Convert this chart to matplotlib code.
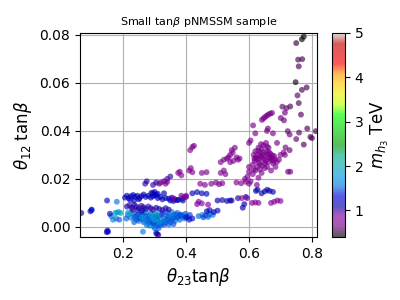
import numpy as np
import matplotlib
matplotlib.use("Agg")
import matplotlib.pyplot as plt

# light blue cluster
x_lb = [0.232,0.240,0.248,0.255,0.262,0.270,0.278,0.285,0.292,0.300,0.308,0.315,0.322,0.330,0.338,0.345,0.352,0.360,0.368,0.375,0.382,0.390,0.398,0.405,0.250,0.265,0.280,0.295,0.305,0.318,0.335,0.350,0.365,0.242,0.258,0.272,0.288,0.302,0.325,0.340,0.355,0.372,0.310,0.298,0.320,0.285,0.275,0.345,0.360,0.380,0.395,0.412,0.440,0.452,0.462,0.475,0.485,0.455,0.470,0.263,0.180,0.168,0.178,0.188,0.162,0.100,0.225,0.235,0.215,0.210,0.330,0.313,0.300,
        0.236,0.252,0.268,0.283,0.296,0.312,0.327,0.343,0.358,0.373,0.388,0.244,0.261,0.277,0.291,0.306,0.321,0.337,0.352,0.367,0.383]
y_lb = [0.0055,0.0045,0.0050,0.0040,0.0035,0.0048,0.0030,0.0042,0.0025,0.0038,0.0030,0.0045,0.0020,0.0035,0.0028,0.0042,0.0032,0.0050,0.0038,0.0045,0.0052,0.0048,0.0055,0.0042,0.0025,0.0020,0.0015,0.0012,0.0010,0.0015,0.0018,0.0020,0.0025,0.0030,0.0060,0.0062,0.0058,0.0055,0.0058,0.0060,0.0062,0.0058,0.0005,0.0002,0.0008,0.0005,0.0008,0.0010,0.0012,0.0030,0.0035,0.0050,0.0045,0.0050,0.0048,0.0052,0.0050,0.0040,0.0042,-0.0020,0.0105,0.0030,0.0035,0.0030,0.0045,0.0070,0.0038,0.0020,0.0050,0.0035,0.0010,-0.0005,-0.0005,
        0.0040,0.0035,0.0028,0.0022,0.0018,0.0022,0.0025,0.0028,0.0035,0.0040,0.0042,0.0048,0.0052,0.0045,0.0040,0.0045,0.0050,0.0048,0.0045,0.0052,0.0048]
m_lb = [1.5,1.55,1.45,1.6,1.5,1.55,1.45,1.5,1.6,1.55,1.45,1.5,1.55,1.6,1.5,1.45,1.55,1.5,1.55,1.45,1.5,1.55,1.5,1.45,1.55,1.5,1.6,1.55,1.5,1.45,1.55,1.5,1.6,1.5,1.45,1.55,1.5,1.55,1.45,1.5,1.55,1.5,1.45,1.55,1.5,1.6,1.55,1.5,1.45,1.5,1.55,1.45,1.5,1.55,1.45,1.5,1.55,1.45,1.5,1.55,1.55,1.6,1.55,1.5,1.55,1.5,1.55,1.5,1.55,1.5,1.45,1.5,1.55,
        1.5,1.45,1.55,1.5,1.45,1.5,1.55,1.5,1.45,1.5,1.55,1.5,1.45,1.5,1.55,1.5,1.45,1.5,1.55,1.5,1.45]

# teal points
x_tl = [0.180,0.186,0.192,0.175,0.216,0.225,0.260,0.290,0.310,0.315,0.300]
y_tl = [0.0060,0.0062,0.0058,0.0058,0.0060,0.0058,0.0040,0.0050,0.0052,0.0020,0.0030]
m_tl = [1.9,1.92,1.88,1.9,1.85,1.9,1.85,1.88,1.9,1.85,1.88]

# dark blue cluster
x_db = [0.206,0.212,0.218,0.225,0.232,0.238,0.245,0.252,0.258,0.265,0.272,0.280,0.288,0.295,0.302,0.310,0.318,0.325,0.335,0.345,0.355,0.365,0.375,0.387,0.290,0.300,0.310,0.250,0.235,0.222,
        0.212,0.220,0.228,0.235,0.242,0.250,0.258,0.265,0.272,0.280,0.288,0.295,0.305,0.315,0.325,0.245,0.230,0.260,0.335,0.345,
        0.067,0.096,0.100,0.149,0.158,0.150,0.148,0.152,0.308,0.312,0.305,0.295,0.305,0.315,0.330,0.340,0.350,0.295,0.305,0.330,0.420,0.435,0.450,0.465,0.390,0.400,0.350,0.360,0.372,0.466,0.475,0.488,0.500,0.400,0.410,0.420,0.500,0.515,0.530,0.545,0.580,0.585,0.590,0.565,0.540,0.622,0.627,0.650,0.658,0.665,0.676,0.640,0.270,0.275]
y_db = [0.0122,0.0130,0.0120,0.0128,0.0133,0.0125,0.0130,0.0120,0.0128,0.0135,0.0125,0.0130,0.0122,0.0128,0.0132,0.0120,0.0125,0.0115,0.0120,0.0118,0.0122,0.0115,0.0112,0.0118,0.0142,0.0146,0.0138,0.0115,0.0110,0.0112,
        0.0085,0.0090,0.0080,0.0092,0.0085,0.0078,0.0088,0.0082,0.0075,0.0085,0.0078,0.0072,0.0080,0.0075,0.0070,0.0070,0.0072,0.0068,0.0078,0.0072,
        0.0058,0.0065,0.0072,0.0110,0.0055,-0.0015,-0.0022,-0.0020,-0.0030,-0.0033,-0.0025,0.0175,0.0185,0.0180,0.0190,0.0200,0.0210,0.0140,0.0135,0.0140,0.0140,0.0145,0.0140,0.0138,0.0110,0.0125,0.0110,0.0108,0.0112,0.0065,0.0070,0.0062,0.0068,0.0040,0.0030,0.0035,0.0110,0.0112,0.0108,0.0110,0.0080,0.0095,0.0125,0.0120,0.0110,0.0150,0.0155,0.0148,0.0155,0.0150,0.0146,0.0140,0.0180,0.0190]
m_db = [1.15,1.2,1.1,1.15,1.2,1.1,1.15,1.2,1.1,1.15,1.2,1.1,1.15,1.2,1.1,1.15,1.2,1.1,1.15,1.2,1.1,1.15,1.2,1.15,1.1,1.15,1.2,1.1,1.15,1.2,
        1.05,1.0,1.05,1.1,1.0,1.05,1.0,1.05,1.1,1.0,1.05,1.0,1.05,1.1,1.0,1.05,1.0,1.05,1.1,1.05,
        1.15,1.2,1.25,1.15,1.2,1.15,1.1,1.15,1.05,1.0,1.1,1.0,1.05,0.95,1.0,0.95,1.0,1.15,1.2,1.15,1.15,1.2,1.15,1.2,1.1,1.05,1.15,1.2,1.1,1.15,1.2,1.15,1.2,1.25,1.2,1.25,1.1,1.05,1.1,1.0,1.1,1.15,1.1,1.05,1.15,1.1,1.15,1.1,1.05,1.1,1.15,1.1,1.0,1.05]

# purple cluster
x_pu = [0.413,0.420,0.425,0.410,0.415,0.420,0.375,0.380,0.385,0.450,0.465,0.445,0.460,0.510,0.520,0.530,0.540,0.535,0.510,0.520,0.525,0.480,0.495,0.505,0.515,0.560,0.575,0.590,0.565,0.570,0.540,0.545,0.555,0.550,0.560,0.548,
        0.587,0.595,0.600,0.605,0.612,0.620,0.625,0.630,0.600,0.615,
        0.612,0.618,0.622,0.628,0.632,0.636,0.640,0.644,0.648,0.652,0.656,0.660,0.664,0.668,0.672,0.676,0.680,0.684,0.688,0.626,0.634,0.642,0.650,0.658,0.646,0.638,0.630,0.662,0.654,0.620,0.615,0.640,0.670,0.695,0.700,0.714,0.710,0.724,0.689,
        0.624,0.631,0.637,0.645,0.653,0.659,0.667,0.674,0.683,0.629,0.641,0.651,0.663,0.672,0.617,0.635,0.657,0.678,
        0.641,0.646,0.651,0.656,0.661,0.667,0.673,0.657,0.660,0.676,0.620,0.613,0.600,0.605,0.600,
        0.610,0.620,0.630,0.670,0.680,0.690,0.700,0.577,0.594,0.435,0.450,0.470,0.395,0.400,0.385,0.320,0.335,0.340,0.360,0.440]
y_pu = [0.0320,0.0333,0.0338,0.0235,0.0245,0.0228,0.0225,0.0230,0.0215,0.0225,0.0228,0.0180,0.0175,0.0270,0.0280,0.0285,0.0270,0.0290,0.0225,0.0235,0.0220,0.0180,0.0185,0.0178,0.0182,0.0185,0.0182,0.0188,0.0280,0.0285,0.0300,0.0320,0.0330,0.0275,0.0290,0.0310,
        0.0200,0.0210,0.0230,0.0190,0.0220,0.0235,0.0175,0.0205,0.0180,0.0240,
        0.0260,0.0275,0.0290,0.0300,0.0285,0.0310,0.0325,0.0300,0.0280,0.0295,0.0315,0.0270,0.0290,0.0305,0.0280,0.0265,0.0295,0.0250,0.0270,0.0250,0.0240,0.0255,0.0245,0.0250,0.0340,0.0345,0.0330,0.0330,0.0350,0.0315,0.0300,0.0225,0.0235,0.0280,0.0300,0.0300,0.0310,0.0230,0.0350,
        0.0282,0.0268,0.0295,0.0312,0.0275,0.0302,0.0285,0.0298,0.0282,0.0318,0.0288,0.0265,0.0312,0.0290,0.0285,0.0262,0.0335,0.0275,
        0.0446,0.0452,0.0458,0.0463,0.0468,0.0472,0.0475,0.0400,0.0410,0.0390,0.0390,0.0423,0.0350,0.0360,0.0250,
        0.0100,0.0102,0.0100,0.0100,0.0105,0.0110,0.0108,0.0120,0.0120,0.0095,0.0098,0.0093,0.0125,0.0130,0.0130,0.0185,0.0180,0.0188,0.0118,0.0105]
m_pu = [0.72,0.75,0.7,0.75,0.72,0.78,0.85,0.82,0.88,0.75,0.72,0.78,0.75,0.72,0.75,0.7,0.72,0.75,0.78,0.72,0.75,0.72,0.75,0.7,0.72,0.75,0.72,0.75,0.72,0.7,0.75,0.72,0.75,0.72,0.7,0.75,
        0.72,0.75,0.7,0.72,0.75,0.7,0.72,0.75,0.72,0.7,
        0.72,0.7,0.75,0.72,0.7,0.72,0.75,0.7,0.72,0.75,0.7,0.72,0.75,0.7,0.72,0.7,0.72,0.75,0.7,0.72,0.75,0.7,0.72,0.7,0.7,0.72,0.7,0.68,0.7,0.72,0.75,0.72,0.7,0.68,0.7,0.68,0.7,0.7,0.65,
        0.72,0.7,0.72,0.7,0.72,0.7,0.72,0.7,0.72,0.7,0.72,0.7,0.72,0.7,0.72,0.7,0.72,0.7,
        0.65,0.65,0.68,0.65,0.65,0.62,0.65,0.65,0.62,0.65,0.7,0.68,0.7,0.7,0.72,
        0.82,0.85,0.82,0.8,0.85,0.82,0.8,0.85,0.8,0.88,0.85,0.88,0.85,0.82,0.9,0.85,0.8,0.82,0.88,0.9]

# dark top-right points
x_dk = [0.768,0.774,0.750,0.756,0.769,0.758,0.748,0.783,0.768,0.754,0.758,0.731,0.719,0.706,0.714,0.701,0.711,0.765,0.723,0.729,0.759,0.812,0.795,0.750,0.774,0.716,0.729,0.731,0.800,0.785]
y_dk = [0.0782,0.0793,0.0766,0.0697,0.0699,0.0669,0.0603,0.0581,0.0571,0.0548,0.0516,0.0502,0.0495,0.0501,0.0476,0.0454,0.0444,0.0468,0.0399,0.0385,0.0393,0.0399,0.0375,0.0366,0.0343,0.0331,0.0320,0.0230,0.0370,0.0410]
m_dk = [0.40,0.45,0.52,0.55,0.55,0.55,0.45,0.55,0.55,0.58,0.55,0.55,0.58,0.58,0.6,0.6,0.6,0.55,0.6,0.6,0.58,0.55,0.55,0.6,0.55,0.62,0.6,0.62,0.55,0.55]

x = np.array(x_lb + x_tl + x_db + x_pu + x_dk)
y = np.array(y_lb + y_tl + y_db + y_pu + y_dk)
m = np.array(m_lb + m_tl + m_db + m_pu + m_dk)

fig = plt.figure(figsize=(4, 3), dpi=100)
ax = fig.add_axes([0.2, 0.21, 0.5925, 0.68])
cax = fig.add_axes([0.83, 0.21, 0.0325, 0.68])

sc = ax.scatter(x, y, c=m, cmap='nipy_spectral', vmin=0.4, vmax=5.0,
                s=18, alpha=0.65, edgecolors='none')
ax.set_xlim(0.063, 0.816)
ax.set_ylim(-0.0042, 0.0808)
ax.set_xticks([0.2, 0.4, 0.6, 0.8])
ax.set_yticks([0.0, 0.02, 0.04, 0.06, 0.08])
ax.set_yticklabels(['0.00', '0.02', '0.04', '0.06', '0.08'])
ax.tick_params(labelsize=10)
ax.grid(True, color='#b0b0b0', linewidth=0.8)
ax.set_axisbelow(True)
ax.set_title(r'Small tan$\beta$ pNMSSM sample', fontsize=8)
ax.set_xlabel(r'$\theta_{23}$tan$\beta$', fontsize=12)
ax.set_ylabel(r'$\theta_{12}\;$tan$\beta$', fontsize=12)

cb = fig.colorbar(sc, cax=cax)
cb.set_ticks([1, 2, 3, 4, 5])
cb.ax.tick_params(labelsize=10)
cb.set_label(r'$m_{h_3}$ TeV', fontsize=12)

fig.savefig('out.png', dpi=100)
